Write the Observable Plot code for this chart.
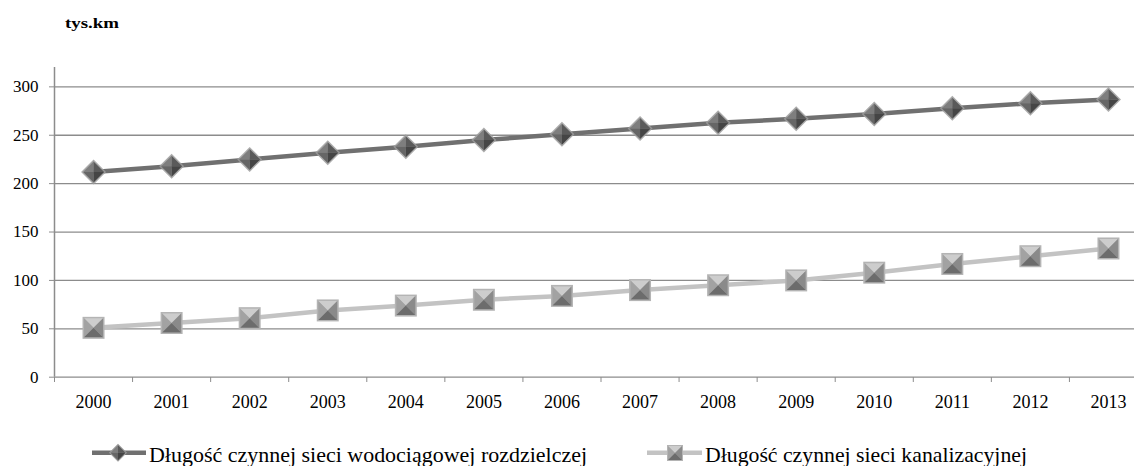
<!DOCTYPE html>
<html>
<head>
<meta charset="utf-8">
<script src="https://cdn.jsdelivr.net/npm/d3@7"></script>
<script src="https://cdn.jsdelivr.net/npm/@observablehq/plot@0.6"></script>
<style>
  html, body { margin: 0; padding: 0; background: #fff; overflow: hidden; width: 1134px; height: 466px; }
  svg { display: block; }
  #chart svg, #chart svg text { font-family: 'Liberation Serif', 'Times New Roman', serif !important; }
</style>
</head>
<body>
<div id="title"></div>
<div id="chart"></div>
<div id="legend"></div>
<script>
// ---- data ----
const years = [2000, 2001, 2002, 2003, 2004, 2005, 2006, 2007, 2008, 2009, 2010, 2011, 2012, 2013];
const waterNetwork = [212, 218, 225, 232, 238, 245, 251, 257, 263, 267, 272, 278, 283, 287];
const sewerNetwork = [51, 56, 61, 69, 74, 80, 84, 90, 95, 100, 108, 117, 125, 133];
const yTicks = [0, 50, 100, 150, 200, 250, 300];
const seriesNames = ["Długość czynnej sieci wodociągowej rozdzielczej", "Długość czynnej sieci kanalizacyjnej"];
const unitLabel = "tys.km";

const water = years.map((year, i) => ({year, value: waterNetwork[i]}));
const sewer = years.map((year, i) => ({year, value: sewerNetwork[i]}));
const boundaries = years.map(y => y - 0.5).concat([years[years.length - 1] + 0.5]);

const FONT = "'Liberation Serif', 'Times New Roman', serif";
const GRID = "#8c8c8c";
const DARK = "#707070";
const LIGHT = "#c3c3c3";

// custom polygon symbols (unit coords scaled by radius)
function poly(pts) {
  return {
    draw(ctx, size) {
      const r = Math.sqrt(size / Math.PI);
      ctx.moveTo(pts[0][0] * r, pts[0][1] * r);
      for (let i = 1; i < pts.length; i++) ctx.lineTo(pts[i][0] * r, pts[i][1] * r);
      ctx.closePath();
    }
  };
}
const diamond = poly([[0, -1], [1, 0], [0, 1], [-1, 0]]);
const dTL = poly([[0, -1], [-1, 0], [0, 0]]);
const dTR = poly([[0, -1], [1, 0], [0, 0]]);
const dBL = poly([[-1, 0], [0, 1], [0, 0]]);
const dBR = poly([[1, 0], [0, 1], [0, 0]]);
const square = poly([[-1, -1], [1, -1], [1, 1], [-1, 1]]);
const sT = poly([[-1, -1], [1, -1], [0, 0]]);
const sL = poly([[-1, -1], [-1, 1], [0, 0]]);
const sR = poly([[1, -1], [1, 1], [0, 0]]);
const sB = poly([[-1, 1], [1, 1], [0, 0]]);

function diamondMarks(data) {
  const o = {x: "year", y: "value"};
  return [
    Plot.dot(data, {...o, symbol: diamond, r: 12.5, fill: "#9c9c9c", fillOpacity: 0.85}),
    Plot.dot(data, {...o, symbol: dTL, r: 10.5, fill: "#7e7e7e"}),
    Plot.dot(data, {...o, symbol: dTR, r: 10.5, fill: "#5a5a5a"}),
    Plot.dot(data, {...o, symbol: dBL, r: 10.5, fill: "#666666"}),
    Plot.dot(data, {...o, symbol: dBR, r: 10.5, fill: "#454545"})
  ];
}
function squareMarks(data) {
  const o = {x: "year", y: "value"};
  return [
    Plot.dot(data, {...o, symbol: square, r: 11, fill: "#b4b4b4"}),
    Plot.dot(data, {...o, symbol: sT, r: 9.5, fill: "#cdcdcd"}),
    Plot.dot(data, {...o, symbol: sL, r: 9.5, fill: "#a2a2a2"}),
    Plot.dot(data, {...o, symbol: sR, r: 9.5, fill: "#8a8a8a"}),
    Plot.dot(data, {...o, symbol: sB, r: 9.5, fill: "#6c6c6c"})
  ];
}

// ---- title ----
document.getElementById("title").innerHTML =
  `<svg width="1134" height="40"><text x="65" y="28" font-family="${FONT}" font-weight="bold" font-size="15" textLength="54" lengthAdjust="spacingAndGlyphs">${unitLabel}</text></svg>`;

// ---- chart ----
const chart = Plot.plot({
  width: 1134,
  height: 390,
  marginLeft: 54,
  marginRight: 0,
  marginTop: 27,
  marginBottom: 53,
  x: {type: "linear", domain: [years[0] - 0.5, years[years.length - 1] + 0.5], range: [54, 1147]},
  y: {domain: [0, 320], range: [336.7, 27]},
  style: {fontFamily: FONT, fontSize: "17px", background: "white", overflow: "hidden", color: "black"},
  marks: [
    Plot.ruleY(yTicks, {stroke: GRID, strokeWidth: 1.3}),
    Plot.ruleX([years[0] - 0.5], {y1: 0, y2: 320, stroke: GRID, strokeWidth: 1.5}),
    Plot.axisY({ticks: yTicks, tickSize: 5, tickPadding: 11, stroke: GRID, fill: "black", fontSize: 17, fontFamily: FONT, label: null}),
    Plot.axisX({ticks: boundaries, tickSize: 5, tickFormat: () => "", stroke: GRID, label: null}),
    Plot.axisX({ticks: years, tickSize: 0, tickPadding: 18, tickFormat: d => String(d), fontSize: 18, fontFamily: FONT, fill: "black", label: null}),
    Plot.line(water, {x: "year", y: "value", stroke: DARK, strokeWidth: 4.5}),
    Plot.line(sewer, {x: "year", y: "value", stroke: LIGHT, strokeWidth: 4.5}),
    ...diamondMarks(water),
    ...squareMarks(sewer)
  ]
});
document.getElementById("chart").appendChild(chart);

// ---- legend ----
function dPath(cx, cy, h) { return `M${cx},${cy - h}L${cx + h},${cy}L${cx},${cy + h}L${cx - h},${cy}Z`; }
const lg = `<svg width="1134" height="36" font-family="${FONT}">
  <line x1="92" y1="22.7" x2="146" y2="22.7" stroke="${DARK}" stroke-width="4.5"/>
  <path d="${dPath(118, 22.7, 9)}" fill="#9c9c9c"/>
  <path d="M118,15.2L110.5,22.7L118,22.7Z" fill="#7e7e7e"/>
  <path d="M118,15.2L125.5,22.7L118,22.7Z" fill="#5a5a5a"/>
  <path d="M110.5,22.7L118,30.2L118,22.7Z" fill="#666"/>
  <path d="M125.5,22.7L118,30.2L118,22.7Z" fill="#454545"/>
  <text x="149" y="32.3" font-size="22" textLength="438" lengthAdjust="spacingAndGlyphs">${seriesNames[0]}</text>
  <line x1="647" y1="22.7" x2="702" y2="22.7" stroke="${LIGHT}" stroke-width="4.5"/>
  <rect x="667" y="15" width="16" height="16" fill="#b4b4b4"/>
  <path d="M668,16L682,16L675,23Z" fill="#cdcdcd"/>
  <path d="M668,16L668,30L675,23Z" fill="#a2a2a2"/>
  <path d="M682,16L682,30L675,23Z" fill="#8a8a8a"/>
  <path d="M668,30L682,30L675,23Z" fill="#6c6c6c"/>
  <text x="705" y="32.3" font-size="22" textLength="322" lengthAdjust="spacingAndGlyphs">${seriesNames[1]}</text>
</svg>`;
document.getElementById("legend").innerHTML = lg;
</script>
</body>
</html>
